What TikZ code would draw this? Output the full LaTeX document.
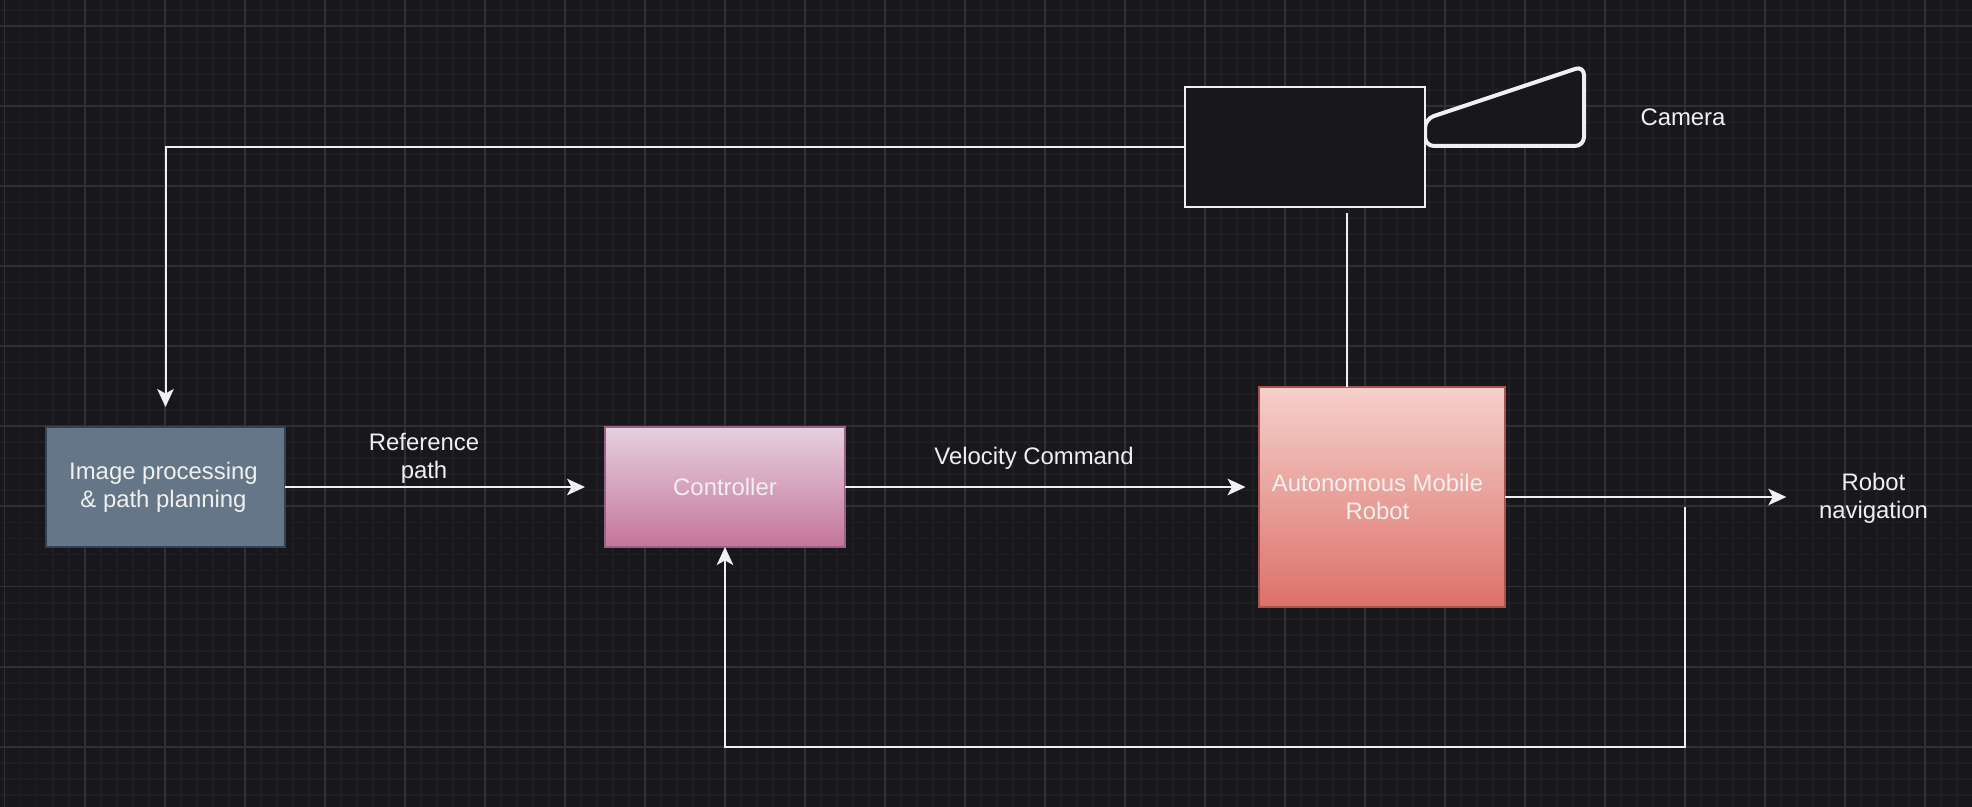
\documentclass[tikz,border=0pt]{standalone}
\usepackage{fontspec}
\setmainfont{Liberation Sans}
\usetikzlibrary{arrows.meta}
\definecolor{canvasbg}{HTML}{18171C}
\definecolor{gridmajor}{HTML}{302F34}
\definecolor{gridminor}{HTML}{1F1E23}
\definecolor{inkwhite}{HTML}{F0F0F0}
\tikzset{
	blockbox/.style={draw, line width=0.04cm, outer sep=0pt, minimum height=2.4cm, minimum width=4.8cm, align=center, text=inkwhite},
	plainlabel/.style={align=center, text=inkwhite, yshift=-0.03cm},
	wire/.style={draw=inkwhite, line width=0.04cm},
	flow/.style={wire, -{Stealth[length=0.36cm, width=0.33cm, inset=0.09cm]}, shorten >=0.40cm}
}

\begin{document}
\begin{tikzpicture}[x=0.02cm, y=-0.02cm, font=\fontsize{13.6}{16}\selectfont]
				\useasboundingbox (0, 0) rectangle (1972, 807);
				\fill[canvasbg] (0, 0) rectangle (1972, 807);
				
				\foreach \k in {0,...,123}
					\draw[gridminor, line width=0.04cm] ({4.5+16*\k}, 0) -- ({4.5+16*\k}, 807);
				\foreach \k in {0,...,50}
					\draw[gridminor, line width=0.04cm] (0, {10.5+16*\k}) -- (1972, {10.5+16*\k});
				\foreach \k in {0,...,24}
					\draw[gridmajor, line width=0.04cm] ({4.5+80*\k}, 0) -- ({4.5+80*\k}, 807);
				\foreach \k in {0,...,9}
					\draw[gridmajor, line width=0.04cm] (0, {26.5+80*\k}) -- (1972, {26.5+80*\k});
				
				\draw[inkwhite, fill=canvasbg, line width=0.08cm, rounded corners=0.18cm] (1425, 119) -- (1584, 66) -- (1584, 146) -- (1425, 146) -- cycle;
				\node[blockbox, draw=inkwhite, fill=canvasbg] (camerabox) at (1305, 147) {};
				\node[plainlabel] (cameralabel) at (1683, 115.5) {Camera};
				
				\node[blockbox, draw={rgb,255:red,49;green,67;blue,84}, fill={rgb,255:red,100;green,118;blue,135}] (imageproc) at (165.5, 487) {};
				\node[plainlabel] (imagelabel) at (163.5, 486) {Image processing\\\& path planning};
				\node[blockbox, draw={rgb,255:red,153;green,97;blue,133}, top color={rgb,255:red,230;green,208;blue,222}, bottom color={rgb,255:red,197;green,117;blue,155}] (controller) at (725, 487) {Controller};
				\node[blockbox, minimum width=4.92cm, minimum height=4.4cm, draw={rgb,255:red,170;green,84;blue,80}, top color={rgb,255:red,245;green,208;blue,203}, bottom color={rgb,255:red,220;green,113;blue,105}] (robot) at (1382, 497) {};
				\node[plainlabel] (robotlabel) at (1377.5, 495.5) {Autonomous Mobile\\Robot};
				
				\node[plainlabel] (refpath) at (424, 457) {Reference\\path};
				\node[plainlabel] (velcmd) at (1034, 457) {Velocity Command};
				\node[plainlabel] (navlabel) at (1873.5, 497) {Robot\\navigation};
				
				\coordinate (mastend) at (1347, 213);
				\coordinate (tap) at (1685, 507);
				
				\draw[flow] (camerabox.west) -| (imageproc.north);
				\draw[wire] (mastend) -- (mastend |- robot.north);
				\draw[flow] (imageproc.east) -- (controller.west);
				\draw[flow, shorten >=0.27cm] (controller.east) -- (controller.east -| robot.west);
				\draw[flow, shorten >=0.53cm] (robot.east) -- (robot.east -| navlabel.west);
				\draw[wire, -{Stealth[length=0.36cm, width=0.33cm, inset=0.09cm]}] (tap) -- ++(0, 240) -| (controller.south);
			\end{tikzpicture}
\end{document}
